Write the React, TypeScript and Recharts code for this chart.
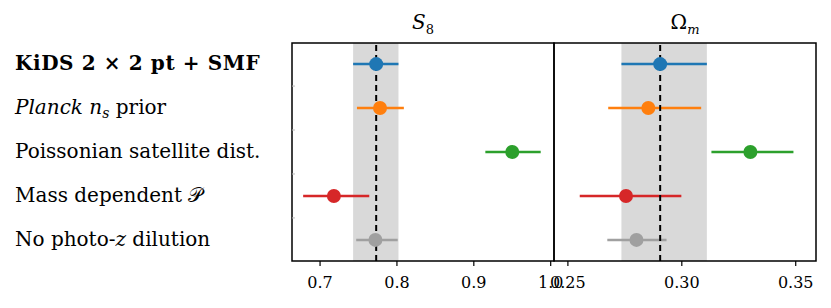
import React from 'react';
import { ScatterChart, Scatter, XAxis, YAxis, ErrorBar, ReferenceArea, ReferenceLine } from 'recharts';

const labels = [
  'KiDS 2 × 2 pt + SMF',
  'Planck n_s prior',
  'Poissonian satellite dist.',
  'Mass dependent 𝒫',
  'No photo-z dilution',
];
const colors = ['#1f77b4', '#ff7f0e', '#2ca02c', '#d62728', '#a0a0a0'];

const s8Mean = [0.773, 0.778, 0.95, 0.718, 0.772];
const s8Low = [0.743, 0.748, 0.915, 0.678, 0.747];
const s8High = [0.802, 0.809, 0.987, 0.764, 0.801];
const s8Fid = 0.773;
const s8Band = [0.743, 0.802];
const s8Ticks = [0.7, 0.8, 0.9, 1.0];
const s8Domain = [0.6635, 1.0043];

const omMean = [0.2905, 0.2853, 0.3301, 0.2755, 0.2801];
const omLow = [0.2735, 0.2677, 0.313, 0.2552, 0.2673];
const omHigh = [0.311, 0.3085, 0.349, 0.2998, 0.2933];
const omFid = 0.2905;
const omBand = [0.2735, 0.311];
const omTicks = [0.25, 0.3, 0.35];
const omDomain = [0.2439, 0.3589];

const rowTicks = [0, 0.5, 1, 1.5, 2, 2.5, 3, 3.5, 4];
const yDomain = [-0.48, 4.48];

const FONT = '"DejaVu Serif", "Liberation Serif", serif';

const renderLabel = (i: number) => {
  switch (i) {
    case 0:
      return <tspan fontWeight="bold" letterSpacing={0.6}>{labels[0]}</tspan>;
    case 1:
      return (
        <>
          <tspan fontStyle="italic">Planck n</tspan>
          <tspan fontStyle="italic" fontSize={14} dy={4}>s</tspan>
          <tspan dy={-4}> prior</tspan>
        </>
      );
    case 3:
      return (
        <>
          <tspan>Mass dependent </tspan>
          <tspan>𝒫</tspan>
        </>
      );
    case 4:
      return (
        <>
          <tspan>No photo-</tspan>
          <tspan fontStyle="italic">z</tspan>
          <tspan> dilution</tspan>
        </>
      );
    default:
      return <tspan>{labels[i]}</tspan>;
  }
};

const LeftTick = (props: any) => {
  const { x, y, payload } = props;
  const v = payload.value;
  if (Number.isInteger(v)) {
    return (
      <text x={15} y={y + 6} fontFamily={FONT} fontSize={20} fill="#000" textAnchor="start">
        {renderLabel(v)}
      </text>
    );
  }
  return <line x1={x} x2={x + 3} y1={y} y2={y} stroke="#bbb" strokeWidth={1} />;
};

const InnerTick = (props: any) => {
  const { x, y, payload } = props;
  if (Number.isInteger(payload.value)) return <g />;
  return <line x1={x} x2={x + 3} y1={y} y2={y} stroke="#bbb" strokeWidth={1} />;
};
const RightInnerTick = (props: any) => {
  const { x, y, payload } = props;
  if (Number.isInteger(payload.value)) return <g />;
  return <line x1={x} x2={x - 3} y1={y} y2={y} stroke="#bbb" strokeWidth={1} />;
};

const Dot = (color: string) => (p: any) => <circle cx={p.cx} cy={p.cy} r={7} fill={color} />;

const tickStyle = { fill: '#000', fontSize: 16, fontFamily: FONT };

export default function App() {
  return (
    <div style={{ position: 'absolute', left: 0, top: 0, width: 831, height: 308, background: '#fff', overflow: 'hidden' }}>
      <ScatterChart
        width={600}
        height={308}
        margin={{ top: 43, right: 46, bottom: 0, left: 0 }}
        style={{ position: 'absolute', left: 0, top: 0 }}
      >
        <XAxis
          type="number"
          dataKey="x"
          domain={s8Domain}
          allowDataOverflow
          ticks={s8Ticks}
          interval={0}
          tickFormatter={(v: number) => v.toFixed(1)}
          height={47}
          axisLine={false}
          tickLine={{ stroke: '#000', strokeWidth: 1.2 }}
          tickSize={5}
          tickMargin={11}
          tick={tickStyle}
        />
        <YAxis
          type="number"
          dataKey="y"
          domain={yDomain}
          allowDataOverflow
          reversed
          ticks={rowTicks}
          interval={0}
          width={292}
          axisLine={false}
          tickLine={false}
          tickSize={0}
          tickMargin={0}
          tick={<LeftTick />}
        />
        <ReferenceArea x1={s8Band[0]} x2={s8Band[1]} fill="#d9d9d9" fillOpacity={1} stroke="none" />
        {s8Mean.map((m, i) => (
          <Scatter
            key={i}
            data={[{ x: m, y: i, err: [m - s8Low[i], s8High[i] - m] }]}
            fill={colors[i]}
            shape={Dot(colors[i])}
            isAnimationActive={false}
          >
            <ErrorBar dataKey="err" direction="x" width={0} stroke={colors[i]} strokeWidth={2.5} />
          </Scatter>
        ))}
        <ReferenceLine x={s8Fid} stroke="#000" strokeWidth={2} strokeDasharray="6 4" />
        <ReferenceArea
          x1={s8Domain[0]}
          x2={s8Domain[1]}
          y1={yDomain[0]}
          y2={yDomain[1]}
          fill="none"
          stroke="#000"
          strokeWidth={1.5}
        />
      </ScatterChart>

      <ScatterChart
        width={291}
        height={308}
        margin={{ top: 43, right: 15, bottom: 0, left: 14 }}
        style={{ position: 'absolute', left: 540, top: 0 }}
      >
        <XAxis
          type="number"
          dataKey="x"
          domain={omDomain}
          allowDataOverflow
          ticks={omTicks}
          interval={0}
          tickFormatter={(v: number) => v.toFixed(2)}
          height={47}
          axisLine={false}
          tickLine={{ stroke: '#000', strokeWidth: 1.2 }}
          tickSize={5}
          tickMargin={11}
          tick={tickStyle}
        />
        <YAxis
          yAxisId="left"
          type="number"
          dataKey="y"
          domain={yDomain}
          allowDataOverflow
          reversed
          ticks={rowTicks}
          interval={0}
          width={0}
          axisLine={false}
          tickLine={false}
          tickSize={0}
          tickMargin={0}
          tick={<InnerTick />}
        />
        <YAxis
          yAxisId="right"
          orientation="right"
          type="number"
          domain={yDomain}
          allowDataOverflow
          reversed
          ticks={rowTicks}
          interval={0}
          width={0}
          axisLine={false}
          tickLine={false}
          tickSize={0}
          tickMargin={0}
          tick={<RightInnerTick />}
        />
        <ReferenceArea yAxisId="left" x1={omBand[0]} x2={omBand[1]} fill="#d9d9d9" fillOpacity={1} stroke="none" />
        {omMean.map((m, i) => (
          <Scatter
            key={i}
            yAxisId="left"
            data={[{ x: m, y: i, err: [m - omLow[i], omHigh[i] - m] }]}
            fill={colors[i]}
            shape={Dot(colors[i])}
            isAnimationActive={false}
          >
            <ErrorBar dataKey="err" direction="x" width={0} stroke={colors[i]} strokeWidth={2.5} />
          </Scatter>
        ))}
        <ReferenceLine yAxisId="left" x={omFid} stroke="#000" strokeWidth={2} strokeDasharray="6 4" />
        <ReferenceArea
          yAxisId="left"
          x1={omDomain[0]}
          x2={omDomain[1]}
          y1={yDomain[0]}
          y2={yDomain[1]}
          fill="none"
          stroke="#000"
          strokeWidth={1.5}
        />
      </ScatterChart>

      <div
        style={{
          position: 'absolute',
          left: 292,
          width: 262,
          top: 10,
          textAlign: 'center',
          fontFamily: FONT,
          fontSize: 20,
          lineHeight: '24px',
        }}
      >
        <i>S</i>
        <sub style={{ fontSize: 13 }}>8</sub>
      </div>
      <div
        style={{
          position: 'absolute',
          left: 554,
          width: 262,
          top: 10,
          textAlign: 'center',
          fontFamily: FONT,
          fontSize: 20,
          lineHeight: '24px',
        }}
      >
        Ω<sub style={{ fontSize: 13 }}><i>m</i></sub>
      </div>
    </div>
  );
}
